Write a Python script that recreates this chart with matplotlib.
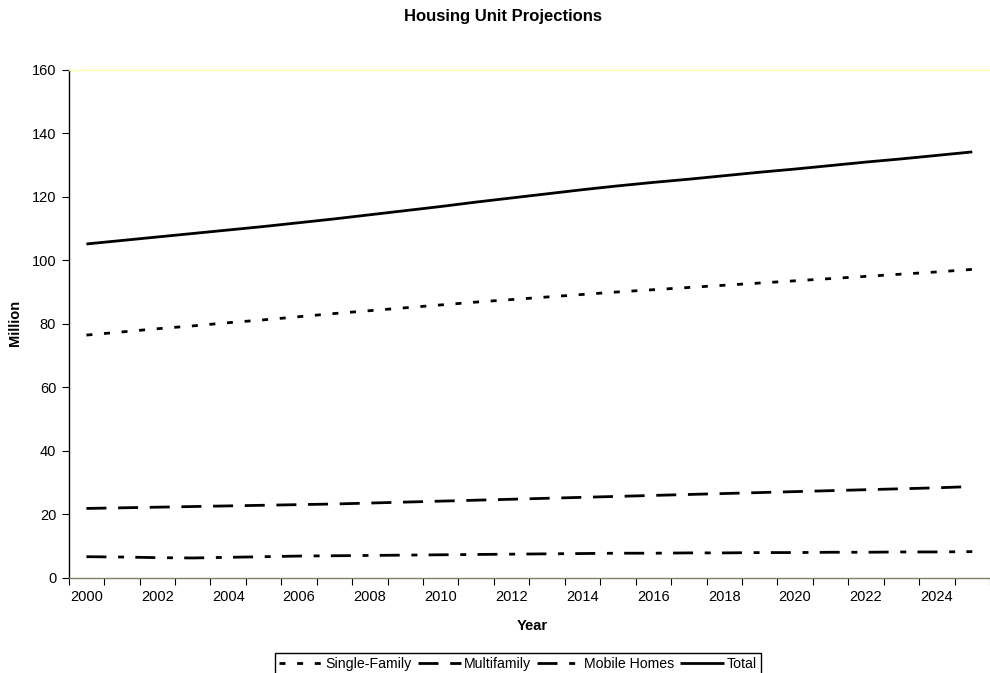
import matplotlib
matplotlib.use("Agg")
import matplotlib.pyplot as plt
import numpy as np

# data (million housing units)
years = list(range(2000, 2026))
single_family = [76.5, 77.5, 78.5, 79.4, 80.4, 81.3, 82.3, 83.3, 84.2, 85.1, 86.0, 86.9, 87.7,
                 88.5, 89.3, 90.1, 90.8, 91.5, 92.2, 92.9, 93.6, 94.3, 95.0, 95.7, 96.4, 97.2]
multifamily = [21.9, 22.1, 22.3, 22.5, 22.7, 22.9, 23.1, 23.3, 23.6, 23.9, 24.2, 24.5, 24.8,
               25.1, 25.4, 25.7, 26.0, 26.3, 26.6, 26.9, 27.2, 27.5, 27.8, 28.1, 28.4, 28.8]
mobile_homes = [6.7, 6.6, 6.4, 6.3, 6.5, 6.7, 6.9, 7.0, 7.1, 7.2, 7.3, 7.4, 7.5,
                7.6, 7.7, 7.8, 7.8, 7.9, 7.9, 8.0, 8.0, 8.1, 8.1, 8.2, 8.2, 8.3]
total = [105.2, 106.3, 107.4, 108.5, 109.6, 110.7, 111.9, 113.1, 114.4, 115.7, 117.0, 118.4, 119.7,
         121.0, 122.3, 123.5, 124.6, 125.6, 126.7, 127.8, 128.8, 129.9, 131.0, 132.0, 133.1, 134.2]
y_ticks = [0, 20, 40, 60, 80, 100, 120, 140, 160]

plt.rcParams.update({
    "font.family": ["Liberation Sans", "DejaVu Sans"],
    "font.size": 10.5,
    "lines.scale_dashes": False,
})

fig = plt.figure(figsize=(9.9, 6.73), dpi=100)
ax = fig.add_axes([0.0694, 0.1412, 0.9306, 0.7548])

x = np.arange(len(years))
LW = 2.0
series = [
    ("Single-Family", single_family, (0, (4.3, 8.4))),
    ("Multifamily", multifamily, (0, (14.4, 8.4))),
    ("Mobile Homes", mobile_homes, (0, (14.4, 8.4, 4.3, 8.1))),
    ("Total", total, "-"),
]
for name, vals, ls in series:
    ax.plot(x, vals, color="black", lw=LW, linestyle=ls, label=name, solid_capstyle="butt",
            dash_capstyle="butt")

ax.set_xlim(-0.5, 25.26)
ax.set_ylim(0, 160)
ax.set_yticks(y_ticks)
ax.set_xticks(np.arange(len(years) + 1) - 0.5)
ax.set_xticklabels([])
ax.set_xticks(x[::2], minor=True)
ax.set_xticklabels([str(y) for y in years[::2]], minor=True)
ax.tick_params(axis="x", which="minor", length=0, pad=9)
ax.tick_params(axis="x", which="major", length=5, direction="out", color="black")
ax.tick_params(axis="y", length=5, direction="out", color="black", pad=4)

ax.spines["right"].set_visible(False)
ax.spines["top"].set_color("#ffffb0")
ax.spines["left"].set_color("black")
ax.spines["bottom"].set_color("#808066")
for s in ax.spines.values():
    s.set_linewidth(1.0)

fig.text(0.508, 0.975, "Housing Unit Projections", ha="center", va="center",
         fontweight="bold", fontsize=12)
fig.text(0.538, 0.070, "Year", ha="center", va="center", fontweight="bold")
fig.text(0.015, 0.52, "Million", ha="center", va="center", rotation=90, fontweight="bold")

leg = fig.legend(loc="upper center", bbox_to_anchor=(0.523, 0.0297), ncol=4, fontsize=10.2,
                 frameon=True, fancybox=False, edgecolor="black", framealpha=1,
                 handlelength=3.1, handletextpad=0.2, columnspacing=0.4, borderpad=0.3,
                 borderaxespad=0)
leg.get_frame().set_linewidth(1.0)

fig.savefig("out.png", dpi=100, facecolor="white")
